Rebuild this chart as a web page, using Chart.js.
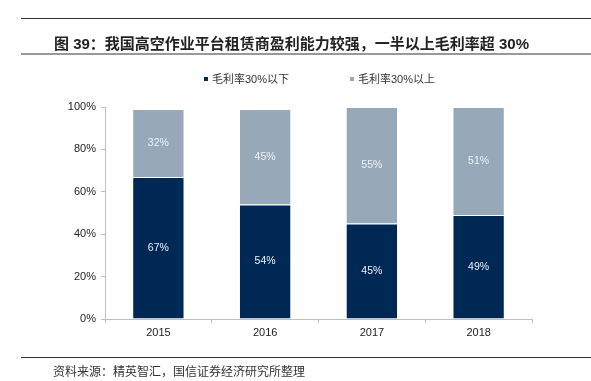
<!DOCTYPE html>
<html>
<head>
<meta charset="utf-8">
<script src="https://cdn.jsdelivr.net/npm/chart.js@4"></script>
<style>
  body { margin: 0; background: #fff; }
  #wrap { position: relative; width: 591px; height: 381px; font-family: "Liberation Sans", "Noto Sans CJK SC", sans-serif; color: #222; }
  #myChart { position: absolute; left: 0; top: 0; }
  .rule { position: absolute; left: 21px; right: 0; }
  #title { position: absolute; left: 54px; top: 32px; font-size: 15px; font-weight: bold; white-space: nowrap; }
  #legend { position: absolute; top: 70px; left: 0; font-size: 11px; color: #333; white-space: nowrap; }
  #legend span.item { position: absolute; top: 0; }
  #legend i { display: inline-block; width: 4px; height: 4px; margin-right: 4px; vertical-align: 2px; }
  #source { position: absolute; left: 53px; top: 362px; font-size: 12px; color: #333; white-space: nowrap; }
</style>
</head>
<body>
<div id="wrap">
  <canvas id="myChart" width="591" height="381"></canvas>
  <div class="rule" style="top:18px;height:1px;background:#333"></div>
  <div id="title">图 39：我国高空作业平台租赁商盈利能力较强，一半以上毛利率超 30%</div>
  <div class="rule" style="top:53px;height:2px;background:#999"></div>
  <div id="legend"></div>
  <div class="rule" style="top:357px;height:1px;background:#333"></div>
  <div id="source">资料来源：精英智汇，国信证券经济研究所整理</div>
</div>
<script>
var years = ['2015', '2016', '2017', '2018'];
var below30 = [67, 54, 45, 49];
var above30 = [32, 45, 55, 51];
var seriesNames = ['毛利率30%以下', '毛利率30%以上'];
var colors = ['#002855', '#97a9b9'];
var yTicks = [0, 20, 40, 60, 80, 100];

// legend in html
var legendPos = [206, 352];
var legend = document.getElementById('legend');
seriesNames.forEach(function (name, i) {
    var s = document.createElement('span');
    s.className = 'item';
    s.style.left = (legendPos[i] - 2) + 'px';
    s.innerHTML = '<i style="background:' + colors[i] + '"></i>' + name;
    legend.appendChild(s);
});

var barLabels = {
    id: 'barLabels',
    afterDatasetsDraw: function (chart) {
        var ctx = chart.ctx;
        ctx.save();
        ctx.font = '10.5px "Liberation Sans", Arial, sans-serif';
        ctx.fillStyle = '#eef1f4';
        ctx.textAlign = 'center';
        ctx.textBaseline = 'middle';
        chart.data.datasets.forEach(function (ds, i) {
            chart.getDatasetMeta(i).data.forEach(function (bar, j) {
                ctx.fillText(ds.data[j] + '%', bar.x, (bar.y + bar.base) / 2);
            });
        });
        ctx.restore();
    }
};

var ctx = document.getElementById('myChart').getContext('2d');
var myChart = new Chart(ctx, {
    type: 'bar',
    data: {
        labels: years,
        datasets: [{
            label: seriesNames[0],
            data: below30,
            backgroundColor: colors[0],
            borderColor: '#ffffff',
            borderWidth: 1
        }, {
            label: seriesNames[1],
            data: above30,
            backgroundColor: colors[1],
            borderColor: '#ffffff',
            borderWidth: 1
        }]
    },
    options: {
        responsive: false,
        animation: false,
        categoryPercentage: 1,
        barPercentage: 0.49,
        layout: {
            padding: { left: 0, right: 59, top: 107, bottom: 38 }
        },
        plugins: {
            legend: { display: false },
            tooltip: { enabled: false }
        },
        scales: {
            x: {
                stacked: true,
                afterFit: function (s) { s.height = 24; },
                grid: { drawOnChartArea: false, color: '#bfbfbf', tickLength: 4 },
                border: { color: '#bfbfbf' },
                ticks: { color: '#222', font: { size: 11, family: '"Liberation Sans", Arial' }, padding: 3 }
            },
            y: {
                stacked: true,
                min: 0,
                max: 100,
                afterFit: function (s) { s.width = 105; },
                afterBuildTicks: function (s) { s.ticks = yTicks.map(function (v) { return { value: v }; }); },
                grid: { drawOnChartArea: false, color: '#bfbfbf', tickLength: 4 },
                border: { color: '#bfbfbf' },
                ticks: {
                    color: '#222',
                    padding: 5,
                    font: { size: 11, family: '"Liberation Sans", Arial' },
                    callback: function (v) { return v + '%'; }
                }
            }
        }
    },
    plugins: [barLabels]
});
</script>
</body>
</html>
